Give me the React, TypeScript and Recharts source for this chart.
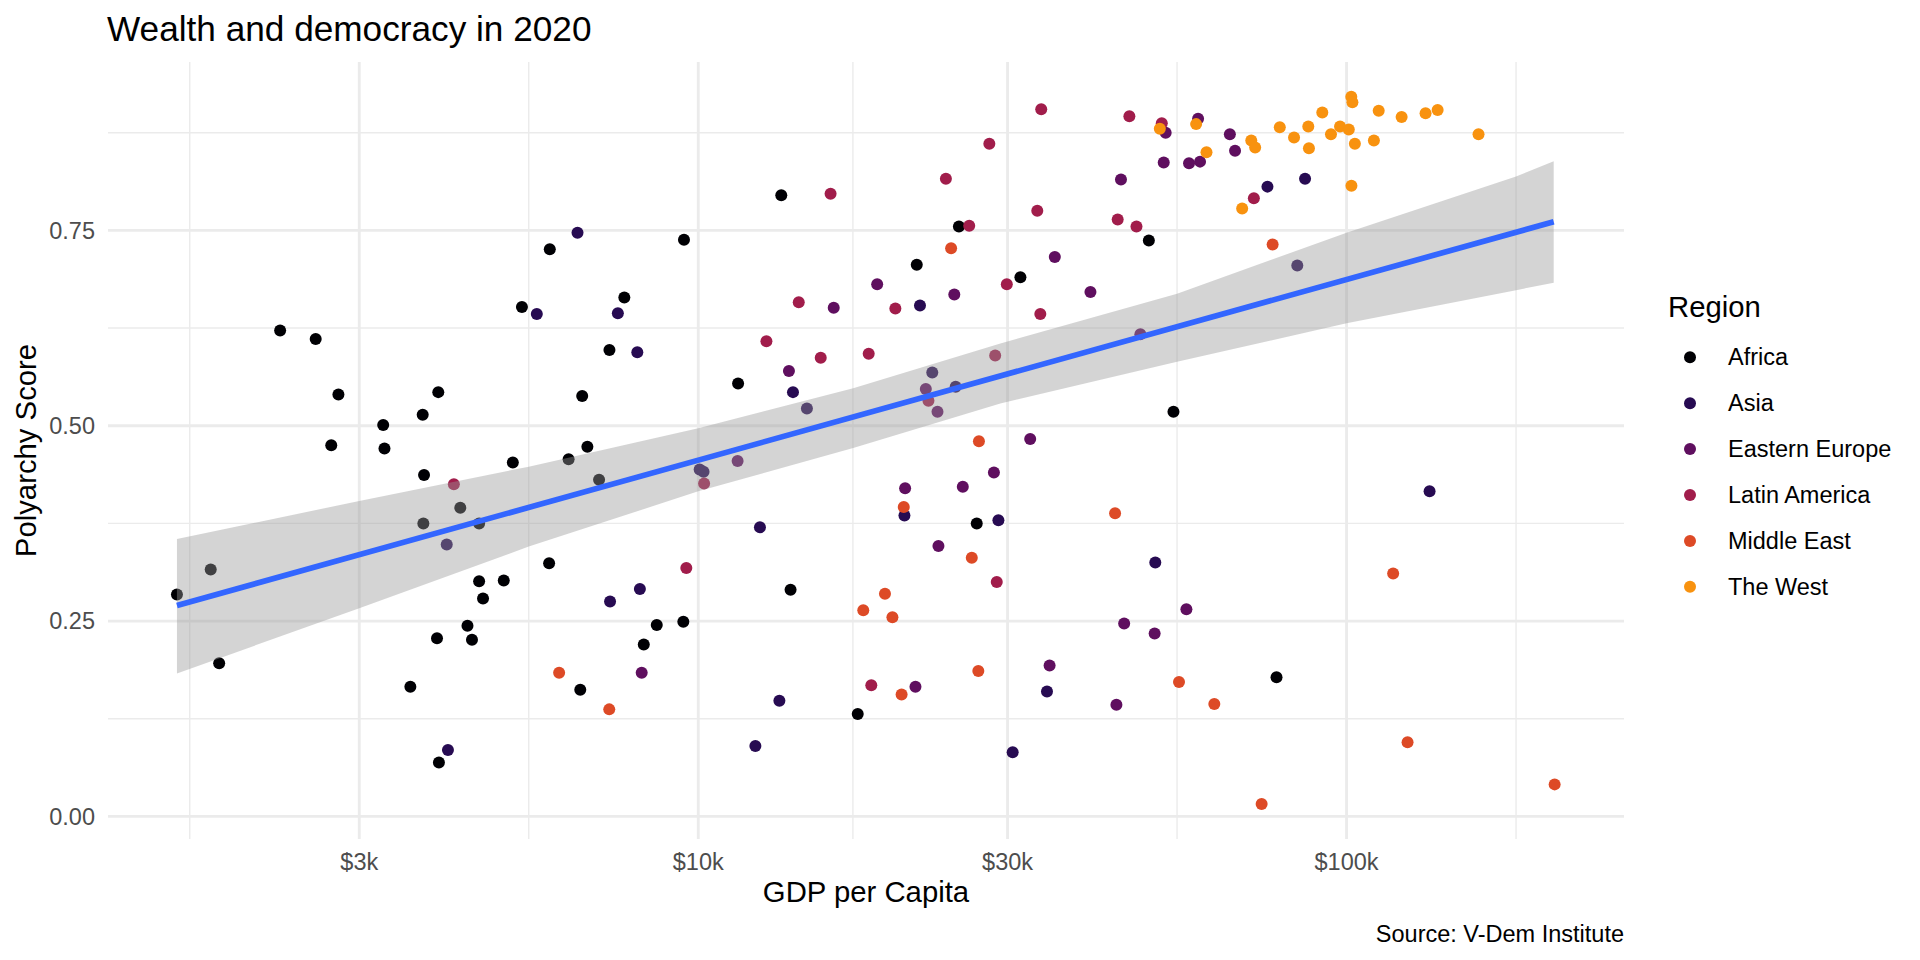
import React from "react";
import { ComposedChart, Scatter, Area, Line, XAxis, YAxis, CartesianGrid } from "recharts";

// GDP per capita (US$) and polyarchy score, one list per region
const africa = [
    [1570, 0.284], [1770, 0.316], [1824, 0.196], [2265, 0.622], [2570, 0.611], [2716, 0.475],
    [2786, 0.540], [3266, 0.501], [3281, 0.471], [3597, 0.166], [3758, 0.514], [3767, 0.375],
    [3776, 0.437], [3954, 0.228], [3972, 0.543], [3981, 0.069], [4295, 0.395], [4406, 0.244],
    [4477, 0.226], [4592, 0.375], [4592, 0.301], [4656, 0.279], [5012, 0.302], [5176, 0.453],
    [5346, 0.652], [5888, 0.324], [5902, 0.726], [6310, 0.457], [6577, 0.162], [6622, 0.538],
    [6745, 0.473], [7031, 0.431], [7295, 0.597], [7691, 0.664], [8241, 0.220], [8630, 0.245],
    [9484, 0.249], [9506, 0.738], [11520, 0.554], [13430, 0.795], [13880, 0.290], [17620, 0.131],
    [21730, 0.706], [25240, 0.755], [26890, 0.375], [31400, 0.690], [49550, 0.737], [54080, 0.518],
    [77980, 0.178],
];
const asia = [
    [4093, 0.348], [4111, 0.085], [5636, 0.643], [6513, 0.747], [7311, 0.275], [7516, 0.644],
    [8054, 0.594], [8128, 0.291], [10050, 0.444], [10190, 0.441], [12250, 0.090], [12450, 0.370],
    [13340, 0.148], [14000, 0.543], [14710, 0.522], [20800, 0.385], [21980, 0.654], [22960, 0.568],
    [24950, 0.550], [29040, 0.379], [30550, 0.082], [34510, 0.160], [50700, 0.325], [75510, 0.806],
    [83950, 0.705], [86300, 0.816], [134300, 0.416],
];
const easternEurope = [
    [8180, 0.184], [11500, 0.455], [13800, 0.570], [16180, 0.651], [18880, 0.681], [20850, 0.420],
    [21630, 0.166], [22440, 0.547], [23390, 0.518], [23470, 0.346], [24830, 0.668], [25590, 0.422],
    [28580, 0.440], [32510, 0.483], [34830, 0.193], [35480, 0.716], [40270, 0.671], [44160, 0.143],
    [44880, 0.815], [45390, 0.247], [48080, 0.617], [50580, 0.234], [52240, 0.837], [52600, 0.875],
    [56620, 0.265], [57150, 0.836], [59020, 0.893], [59430, 0.838], [66070, 0.873], [67300, 0.852],
];
const latinAmerica = [
    [4198, 0.425], [9585, 0.318], [10210, 0.426], [12740, 0.608], [14290, 0.658], [15450, 0.587],
    [16000, 0.797], [18320, 0.592], [18490, 0.168], [20140, 0.650], [22650, 0.532], [24100, 0.816],
    [26180, 0.756], [28120, 0.861], [28710, 0.590], [28870, 0.300], [29920, 0.681], [33340, 0.775],
    [33810, 0.905], [33700, 0.643], [44360, 0.764], [46240, 0.896], [47420, 0.755], [51880, 0.887],
    [71950, 0.791],
];
const middleEast = [
    [6101, 0.184], [7290, 0.137], [17970, 0.264], [19410, 0.285], [19930, 0.255], [20590, 0.156],
    [20750, 0.396], [24550, 0.727], [26420, 0.331], [27040, 0.186], [27100, 0.480], [43950, 0.388],
    [55150, 0.172], [62520, 0.144], [76910, 0.732], [73960, 0.016], [118000, 0.311], [124200, 0.095],
    [209400, 0.041],
];
const theWest = [
    [51520, 0.880], [58610, 0.886], [60810, 0.850], [69020, 0.778], [71290, 0.865], [72280, 0.856],
    [78890, 0.882], [82990, 0.869], [87300, 0.883], [87500, 0.855], [91750, 0.901], [94620, 0.873],
    [97720, 0.883], [100800, 0.879], [101700, 0.921], [102100, 0.914], [103000, 0.861], [101750, 0.807],
    [110200, 0.865], [112100, 0.903], [121600, 0.895], [132400, 0.900], [138200, 0.904], [159800, 0.873],
];

const regions = ["Africa", "Asia", "Eastern Europe", "Latin America", "Middle East", "The West"];
const regionPoints = [africa, asia, easternEurope, latinAmerica, middleEast, theWest];
const regionColors = ["#000004", "#270B52", "#5F0F5F", "#A11D4B", "#DD4A26", "#F8920F"];

// linear fit and its confidence band, read at a few GDP values
const bandGdp = [1570, 3000, 5477, 10000, 17338, 29240, 54772, 100000, 182574, 208710];
const bandLow = [0.183, 0.2665, 0.3453, 0.416, 0.4715, 0.5286, 0.582, 0.631, 0.6735, 0.683];
const bandHigh = [0.355, 0.4037, 0.4476, 0.4967, 0.548, 0.6053, 0.669, 0.747, 0.819, 0.8385];
const fitGdp = [1570, 208710];
const fitScore = [0.270, 0.761];

const xTicks = [3000, 10000, 30000, 100000];
const xMinor = [1643, 5477, 17321, 54772, 182574];
const yTicks = [0, 0.25, 0.5, 0.75];
const yMinor = [0.125, 0.375, 0.625, 0.875];

const bandData = bandGdp.map((gdp, i) => ({
    gdp,
    band: [bandLow[i], bandHigh[i]],
    fit: fitGdp.includes(gdp) ? fitScore[fitGdp.indexOf(gdp)] : null,
}));

const FONT = "'Liberation Sans', Arial, Helvetica, sans-serif";
const tickStyle = { fill: "#4D4D4D", fontSize: 23.5, fontFamily: FONT };

export default function App() {
    return (
        <div style={{ position: "relative", width: 1920, height: 960, background: "#fff", fontFamily: FONT }}>
            <style>{`body{margin:0}`}</style>
            <ComposedChart
                width={1920}
                height={960}
                data={bandData}
                margin={{ top: 62, right: 296, bottom: 0, left: 0 }}
            >
                <CartesianGrid
                    stroke="#EBEBEB"
                    strokeWidth={1.4}
                    horizontalValues={yMinor}
                    verticalValues={xMinor}
                />
                <CartesianGrid
                    stroke="#EBEBEB"
                    strokeWidth={2.85}
                    horizontalValues={yTicks}
                    verticalValues={xTicks}
                />
                <XAxis
                    dataKey="gdp"
                    type="number"
                    scale="log"
                    domain={[1229, 267900]}
                    allowDataOverflow
                    ticks={xTicks}
                    tickFormatter={(v) => `$${v / 1000}k`}
                    axisLine={false}
                    tickLine={false}
                    tickSize={0}
                    tickMargin={14}
                    height={121}
                    tick={tickStyle}
                />
                <YAxis
                    dataKey="score"
                    type="number"
                    domain={[-0.0289, 0.9655]}
                    allowDataOverflow
                    ticks={yTicks}
                    tickFormatter={(v) => v.toFixed(2)}
                    axisLine={false}
                    tickLine={false}
                    tickSize={0}
                    tickMargin={13}
                    width={108}
                    tick={tickStyle}
                />
                {regions.map((name, i) => (
                    <Scatter
                        key={name}
                        name={name}
                        data={regionPoints[i].map(([gdp, score]) => ({ gdp, score }))}
                        isAnimationActive={false}
                        shape={(p: any) => <circle cx={p.cx} cy={p.cy} r={6} fill={regionColors[i]} />}
                    />
                ))}
                <Area
                    dataKey="band"
                    type="linear"
                    stroke="none"
                    fill="#999999"
                    fillOpacity={0.42}
                    isAnimationActive={false}
                    zIndex={700}
                />
                <Line
                    dataKey="fit"
                    type="linear"
                    stroke="#3366FF"
                    strokeWidth={5.7}
                    dot={false}
                    activeDot={false}
                    connectNulls
                    isAnimationActive={false}
                    zIndex={800}
                />
            </ComposedChart>

            <svg
                width={1920}
                height={960}
                style={{ position: "absolute", left: 0, top: 0, pointerEvents: "none" }}
                fontFamily={FONT}
            >
                <text x={107} y={41} fontSize={35.2} fill="#000">Wealth and democracy in 2020</text>
                <text x={866} y={902} fontSize={29.3} fill="#000" textAnchor="middle">GDP per Capita</text>
                <text
                    x={0}
                    y={0}
                    fontSize={29.3}
                    fill="#000"
                    textAnchor="middle"
                    transform="translate(36 450.5) rotate(-90)"
                >
                    Polyarchy Score
                </text>
                <text x={1624} y={941.5} fontSize={23.5} fill="#000" textAnchor="end">Source: V-Dem Institute</text>

                {/* legend */}
                <text x={1668} y={316.5} fontSize={29.3} fill="#000">Region</text>
                {regions.map((name, i) => (
                    <g key={name}>
                        <circle cx={1690} cy={357.3 + i * 45.9} r={6} fill={regionColors[i]} />
                        <text x={1728} y={365.1 + i * 45.9} fontSize={23.5} fill="#000">{name}</text>
                    </g>
                ))}
            </svg>
        </div>
    );
}
